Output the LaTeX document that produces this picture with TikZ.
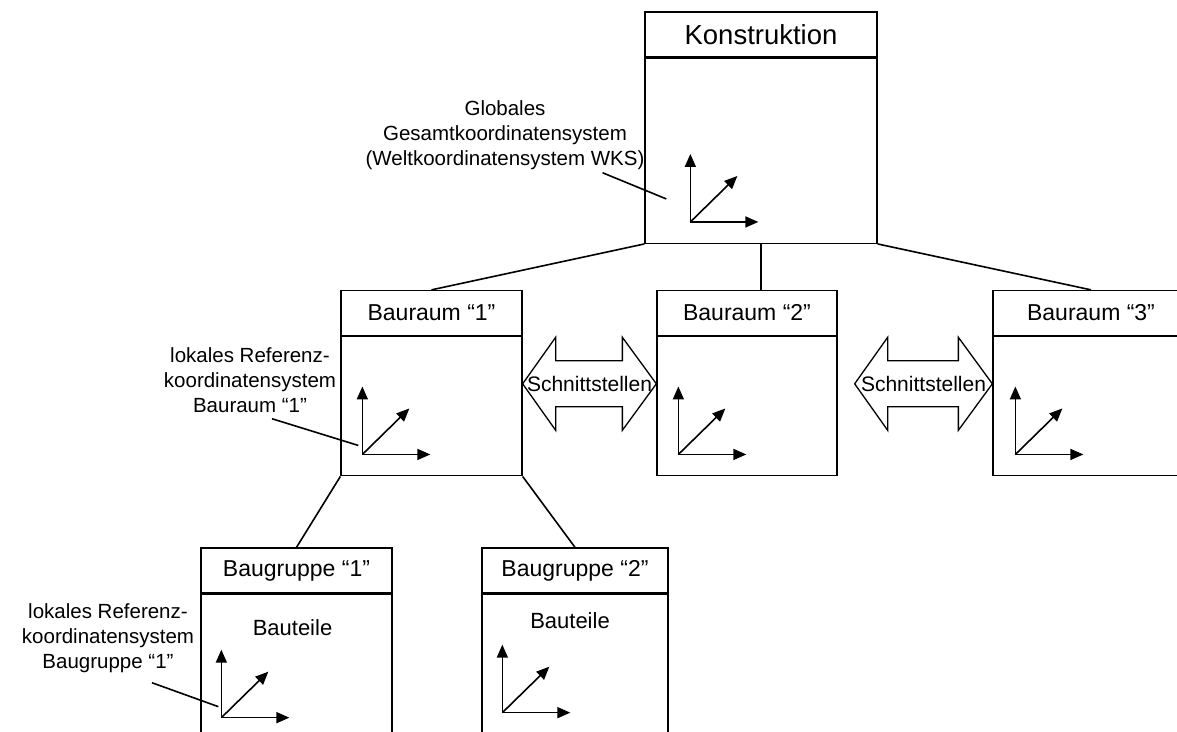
\documentclass[tikz,border=0pt]{standalone}
\usepackage{fontspec}
\setmainfont{Liberation Sans}
\usetikzlibrary{arrows.meta,calc}

\tikzset{pics/achsen/.style={code={
      \draw [achse] (0,0) -- (0,-68);
      \draw [achse] (0,0) -- (68,0);
      \draw [achse] (0,0) -- (47,-46);
}}}

\begin{document}
\begin{tikzpicture}[x=1pt,y=-1pt,
    kopf/.style={draw,line width=1.3pt,minimum height=45pt,inner sep=0pt,font=\fontsize{23}{26}\selectfont},
    rumpf/.style={draw,line width=1.3pt,anchor=north,inner sep=0pt},
    achse/.style={line width=1.6pt,-{Triangle[length=13pt,width=11pt]}},
    verb/.style={line width=1.6pt},
    pfeil/.style={line width=1.3pt,line join=miter},
    notiz/.style={align=center,inner sep=0pt,font=\fontsize{20.5}{25}\selectfont}]
      \useasboundingbox (0,0) rectangle (1177,731);
      \clip (0,0) rectangle (1177,731);

      % Konstruktion
      \node [kopf,minimum width=232pt,font=\fontsize{27.5}{30}\selectfont] (kon) at (761,34.5) {Konstruktion};
      \node [rumpf,minimum width=232pt,minimum height=185pt] (konR) at (kon.south) {};

      % Bauraeume
      \node [kopf,minimum width=181pt] (b1) at (431.5,313) {Bauraum “1”};
      \node [rumpf,minimum width=181pt,minimum height=139pt] (b1R) at (b1.south) {};
      \node [kopf,minimum width=180pt] (b2) at (747,313) {Bauraum “2”};
      \node [rumpf,minimum width=180pt,minimum height=139pt] (b2R) at (b2.south) {};
      \node [kopf,minimum width=196pt] (b3) at (1091,313) {Bauraum “3”};
      \node [rumpf,minimum width=196pt,minimum height=139pt] (b3R) at (b3.south) {};

      % Baugruppen
      \node [kopf,minimum width=191pt] (g1) at (296.5,570.5) {Baugruppe “1”};
      \node [rumpf,minimum width=191pt,minimum height=210pt] (g1R) at (g1.south) {};
      \node [kopf,minimum width=186pt] (g2) at (575,570.5) {Baugruppe “2”};
      \node [rumpf,minimum width=186pt,minimum height=210pt] (g2R) at (g2.south) {};
      \node [font=\fontsize{22}{25}\selectfont] (t1) at ($(g1R.north)+(-4,34)$) {Bauteile};
      \node [font=\fontsize{22}{25}\selectfont] (t2) at ($(g2R.north)+(-5,27)$) {Bauteile};

      \draw [verb] (konR.south west) -- (b1.north);
      \draw [verb] (konR.south) -- (konR.south |- b2.north);
      \draw [verb] (konR.south east) -- (b3.north);
      \draw [verb] (b1R.south west) -- (g1.north);
      \draw [verb] (b1R.south east) -- (g2.north);

      % Koordinatensysteme
      \coordinate (ok) at ($(konR.south west)+(46,-22)$);
      \coordinate (o1) at ($(b1R.south west)+(22,-22)$);
      \coordinate (o2) at ($(b2R.south west)+(22,-22)$);
      \coordinate (o3) at ($(b3R.south west)+(23,-22)$);
      \coordinate (og1) at ($(g1R.north west)+(21,124)$);
      \coordinate (og2) at ($(g2R.north west)+(21,119)$);
      \foreach \o in {ok,o1,o2,o3,og1,og2}
        \pic at (\o) {achsen};

      % Schnittstellen
      \coordinate (s1a) at ($(b1R.east)+(0,-22.5)$);
      \coordinate (s1b) at ($(b2R.west)+(0,-22.5)$);
      \coordinate (s2a) at ($(b2R.east)+(17,-22.5)$);
      \coordinate (s2b) at ($(b3R.west)+(0,-22.5)$);
      \foreach \a/\b in {s1a/s1b,s2a/s2b} {
        \draw [pfeil] (\a) -- ++(33,-46.5) -- ++(0,23.5) -- ($(\b)+(-34,-23)$) -- ++(0,-23.5)
          -- (\b) -- ++(-34,46.5) -- ++(0,-23.5) -- ($(\a)+(33,23)$) -- ++(0,23.5) -- cycle;
      }
      \node [font=\fontsize{21}{24}\selectfont,inner sep=0pt] (sn1) at ($(s1a)!.5!(s1b)$) {Schnittstellen};
      \node [font=\fontsize{21}{24}\selectfont,inner sep=0pt] (sn2) at ($(s2a)!.5!(s2b)$) {Schnittstellen};

      % Erlaeuterungen
      \node [notiz] (nglob) at (505,135) {Globales\\Gesamtkoordinatensystem\\(Weltkoordinatensystem WKS)};
      \node [notiz] (nbr) at (250,380) {lokales Referenz-\\koordinatensystem\\Bauraum “1”};
      \node [notiz] (nbg) at (108,638) {lokales Referenz-\\koordinatensystem\\Baugruppe “1”};
      \draw [verb] ($(nglob.south east)+(-42,3)$) -- ($(ok)+(-24,-23)$);
      \draw [verb] ($(nbr.south)+(22,6)$) -- ($(o1)+(-4,-9)$);
      \draw [verb] ($(nbg.south)+(44,10)$) -- ($(og1)+(-3,-11)$);
\end{tikzpicture}
\end{document}
